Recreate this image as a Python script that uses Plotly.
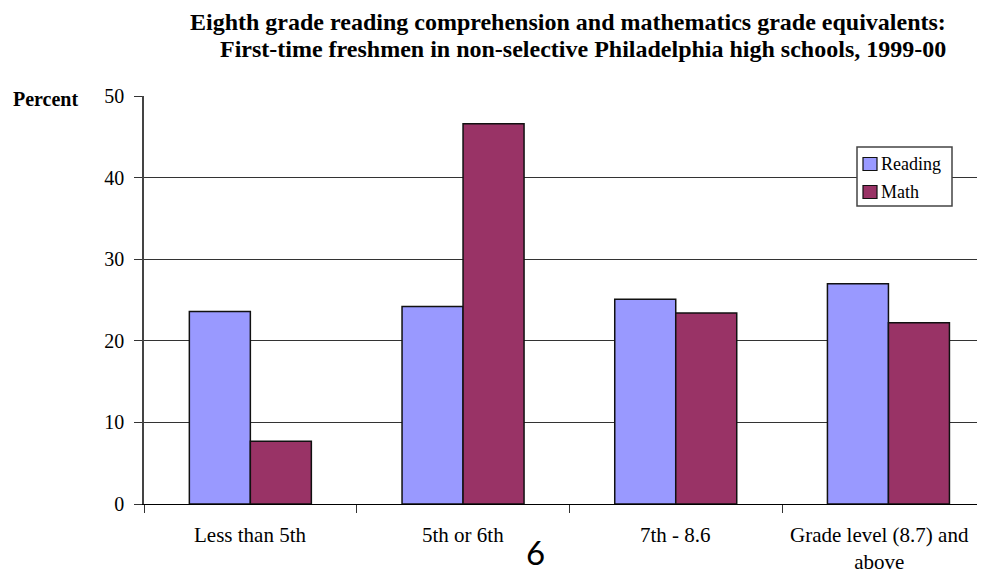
import plotly.graph_objects as go

categories = ["Less than 5th", "5th or 6th", "7th - 8.6", "Grade level (8.7) and<br>above"]
series_names = ["Reading", "Math"]
reading = [23.6, 24.2, 25.1, 27.0]
math_vals = [7.7, 46.6, 23.4, 22.2]
colors = ["#9999FF", "#993366"]
title_lines = ["Eighth grade reading comprehension and mathematics grade equivalents:",
               "First-time freshmen in non-selective Philadelphia high schools, 1999-00"]

SERIF = "Liberation Serif, Times New Roman, serif"

# page offset (browser body margin) compensation
OFF = 8
W, H = 985, 571
L, T = 144 - OFF, 96 - OFF
B = H - (504 - OFF)
R = OFF
pw = W - L - R
ph = H - T - B

def px(x):  # page pixel x -> paper
    return (x - OFF - L) / pw

def py(y):  # page pixel y -> paper
    return (H - B - (y - OFF)) / ph

fig = go.Figure()
for name, vals, col in zip(series_names, [reading, math_vals], colors):
    fig.add_trace(go.Bar(name=name, x=categories, y=vals,
                         marker=dict(color=col, line=dict(color="#111111", width=1.5)),
                         showlegend=False))

annotations = []
# title lines
for i, line in enumerate(title_lines):
    annotations.append(dict(text="<b>" + line + "</b>", xref="paper", yref="paper",
                            x=px(948), y=py(22 + 27 * i), xanchor="right", yanchor="middle",
                            showarrow=False, font=dict(family=SERIF, size=24, color="black")))
annotations.append(dict(text="<b>Percent</b>", xref="paper", yref="paper", x=px(45), y=py(99),
                        xanchor="center", yanchor="middle", showarrow=False,
                        font=dict(family=SERIF, size=20, color="black")))
annotations.append(dict(text="6", xref="paper", yref="paper", x=px(535), y=py(552),
                        xanchor="center", yanchor="middle", showarrow=False,
                        font=dict(family="Lato, Open Sans, sans-serif", size=33, color="black")))
# category labels
for i, cat in enumerate(categories):
    annotations.append(dict(text=cat, xref="x", yref="paper", x=cat, y=py(521),
                            xanchor="center", yanchor="top", showarrow=False,
                            xshift=(-9 if i == len(categories) - 1 else 0),
                            font=dict(family=SERIF, size=21, color="black")))

# custom legend
shapes = [dict(type="rect", xref="paper", yref="paper", x0=px(857), x1=px(952),
               y0=py(206), y1=py(147), line=dict(color="#444444", width=1.5),
               fillcolor="white", layer="above")]
for i, (name, col) in enumerate(zip(series_names, colors)):
    yc = 164 + 28 * i
    shapes.append(dict(type="rect", xref="paper", yref="paper", x0=px(863), x1=px(877),
                       y0=py(yc + 6.5), y1=py(yc - 6.5), line=dict(color="#111111", width=1.2),
                       fillcolor=col, layer="above"))
    annotations.append(dict(text=name, xref="paper", yref="paper", x=px(879), y=py(yc),
                            xanchor="left", yanchor="middle", showarrow=False,
                            font=dict(family=SERIF, size=18, color="black")))

fig.update_layout(
    width=W, height=H,
    margin=dict(l=L, r=R, t=T, b=B, pad=0),
    paper_bgcolor="white", plot_bgcolor="white",
    barmode="group", bargap=0.4264, bargroupgap=0,
    font=dict(family=SERIF, size=20, color="black"),
    showlegend=False,
    xaxis=dict(range=[-0.5, 3.454], type="category", tickson="boundaries",
               ticks="outside", ticklen=8, tickcolor="#333333", tickwidth=1,
               showline=True, linecolor="black", linewidth=1,
               showgrid=False, showticklabels=False),
    yaxis=dict(range=[0, 50], dtick=10, ticks="outside", ticklen=8,
               tickcolor="#333333", tickwidth=1,
               showline=True, linecolor="#444444", linewidth=1.5,
               showgrid=True, gridcolor="#333333", gridwidth=1,
               zeroline=False, ticklabelstandoff=6,
               tickfont=dict(family=SERIF, size=20, color="black")),
    annotations=annotations,
    shapes=shapes,
)

fig.write_html("out.html")
